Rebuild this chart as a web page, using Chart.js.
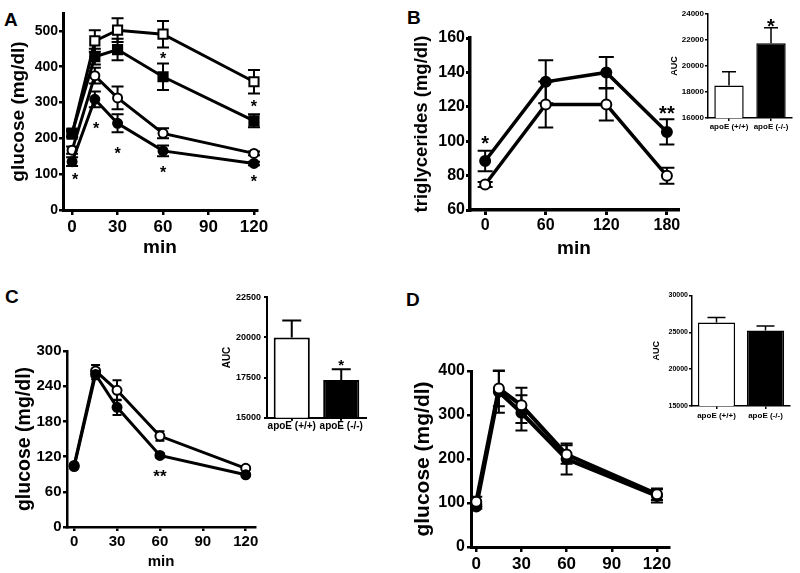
<!DOCTYPE html>
<html><head><meta charset="utf-8">
<script src="https://cdn.jsdelivr.net/npm/chart.js@4.4.1/dist/chart.umd.min.js"></script>
<style>
html,body{margin:0;padding:0;background:#fff;width:800px;height:573px;overflow:hidden;position:relative}
canvas{position:absolute;left:0;top:0}
.lbl{position:absolute;font:bold 19px 'Liberation Sans',Arial,sans-serif;line-height:19px;color:#000}
</style></head><body>
<div class="lbl" style="left:4px;top:10px">A</div>
<div class="lbl" style="left:407px;top:8px">B</div>
<div class="lbl" style="left:5px;top:287px">C</div>
<div class="lbl" style="left:406px;top:290px">D</div>
<canvas id="cA" width="800" height="573"></canvas>
<canvas id="cB" width="800" height="573"></canvas>
<canvas id="cBi" width="800" height="573"></canvas>
<canvas id="cC" width="800" height="573"></canvas>
<canvas id="cCi" width="800" height="573"></canvas>
<canvas id="cD" width="800" height="573"></canvas>
<canvas id="cDi" width="800" height="573"></canvas>
<script>
// ---------------- DATA ----------------
// Panel A
const timeA = [0, 15, 30, 60, 120];
const A_openSquare   = [212, 472, 502, 491, 358];
const A_openSquareErr = [8, 30, 33, 37, 33];
const A_filledSquare = [215, 428, 448, 372, 249];
const A_filledSquareErr = [10, 22, 30, 37, 18];
const A_openCircle   = [167, 375, 313, 214, 158];
const A_openCircleErr = [10, 22, 32, 14, 5];
const A_filledCircle = [135, 309, 242, 165, 130];
const A_filledCircleErr = [12, 22, 25, 15, 5];
const A_xTicks = [0, 30, 60, 90, 120];
const A_yTicks = [0, 100, 200, 300, 400, 500];
const A_stars = [[2, 95, '*'], [15.8, 239, '*'], [30, 169, '*'], [60, 114, '*'], [120, 91, '*'], [60, 433, '*'], [120, 298, '*']];

// Panel B
const timeB = [0, 60, 120, 180];
const B_filled = [88.5, 134.5, 140, 105.4];
const B_filledErr = [6, 12.5, 9, 7.3];
const B_open = [74.8, 121.3, 121.3, 79.9];
const B_openErr = [1.5, 13.4, 9.3, 4.6];
const B_xTicks = [0, 60, 120, 180];
const B_yTicks = [60, 80, 100, 120, 140, 160];
const B_stars = [[0, 101.6, '*'], [180, 118.8, '**']];
const AUC_labels = ['apoE (+/+)', 'apoE (-/-)'];
const B_auc = [18500, 21750];
const B_aucErr = [1050, 1200];
const B_aucTicks = [16000, 18000, 20000, 22000, 24000];
const B_aucStars = [[1, 23400, '*']];

// Panel C
const timeC = [0, 15, 30, 60, 120];
const C_open = [105, 266, 233, 155, 100];
const C_openErr = [3, 10, 17, 8, 3];
const C_filled = [103, 260, 204, 122, 89];
const C_filledErr = [3, 8, 13, 4, 3];
const C_xTicks = [0, 30, 60, 90, 120];
const C_yTicks = [0, 60, 120, 180, 240, 300];
const C_stars = [[60, 94, '**']];
const C_auc = [20000, 17350];
const C_aucErr = [1050, 670];
const C_aucTicks = [15000, 17500, 20000, 22500];
const C_aucStars = [[1, 18500, '*']];

// Panel D
const timeD = [0, 15, 30, 60, 120];
const D_open = [103, 360, 322, 210, 120];
const D_openErr = [11, 40, 40, 21, 13];
const D_filled = [92, 353, 305, 200, 116];
const D_filledErr = [5, 48, 40, 35, 15];
const D_xTicks = [0, 30, 60, 90, 120];
const D_yTicks = [0, 100, 200, 300, 400];
const D_auc = [26350, 25250];
const D_aucErr = [680, 600];
const D_aucTicks = [15000, 20000, 25000, 30000];

// ---------------- HELPERS ----------------
const FONT = "'Liberation Sans', Arial, Helvetica, sans-serif";
Chart.defaults.font.family = FONT;
Chart.defaults.font.weight = 'bold';
Chart.defaults.color = '#000';

function drawErr(chart, o) {
  const ctx = chart.ctx, ys = chart.scales.y;
  ctx.save();
  ctx.strokeStyle = '#000'; ctx.lineWidth = o.lw;
  o.errors.forEach((errs, i) => {
    if (!errs) return;
    const meta = chart.getDatasetMeta(i);
    const ds = chart.data.datasets[i];
    meta.data.forEach((el, j) => {
      const e = errs[j]; if (!e) return;
      const d = ds.data[j]; const v = (d && typeof d === 'object') ? d.y : d;
      const px = el.x;
      const top = ys.getPixelForValue(v + e);
      const bot = o.upOnly ? ys.getPixelForValue(v) : ys.getPixelForValue(v - e);
      ctx.beginPath();
      ctx.moveTo(px, top); ctx.lineTo(px, bot);
      ctx.moveTo(px - o.cap, top); ctx.lineTo(px + o.cap, top);
      if (!o.upOnly) { ctx.moveTo(px - o.cap, bot); ctx.lineTo(px + o.cap, bot); }
      ctx.stroke();
    });
  });
  ctx.restore();
}
function drawStars(chart, o) {
  if (!o.stars) return;
  const ctx = chart.ctx, xs = chart.scales.x, ys = chart.scales.y;
  ctx.save();
  ctx.fillStyle = '#000';
  ctx.font = 'bold ' + o.starSize + 'px ' + FONT;
  ctx.textAlign = 'center'; ctx.textBaseline = 'alphabetic';
  o.stars.forEach(s => {
    ctx.fillText(s[2], xs.getPixelForValue(s[0]), ys.getPixelForValue(s[1]) + 0.57 * o.starSize);
  });
  ctx.restore();
}
const extras = {
  id: 'extras',
  beforeDatasetsDraw(chart, a, o) { if (o.errors && !o.errAfter) drawErr(chart, o); },
  afterDatasetsDraw(chart, a, o) { if (o.errors && o.errAfter) drawErr(chart, o); drawStars(chart, o); }
};

function build(id, c) {
  const ylh = c.yTitle.size * 1.2;
  const boxLeft = c.yTitle.cx - ylh / 2;
  const W = c.area.l - boxLeft;
  const boxBottom = c.xTitle ? c.xTitle.cy + c.xTitle.size * 0.6 : (c.xBoxBottom || 573);
  const H = boxBottom - c.area.b;
  const padding = { left: boxLeft, top: c.area.t, right: 800 - c.area.r, bottom: 573 - boxBottom };
  const gridOf = (o) => ({ display: true, drawOnChartArea: false, drawTicks: true, tickLength: o.tl,
    tickWidth: c.tw, tickColor: '#000', color: '#000', lineWidth: c.tw, offset: false });
  const border = { display: true, width: c.bw, color: '#000' };
  let xScale;
  if (c.type === 'bar') {
    xScale = { type: 'category', offset: true, grid: gridOf(c.x), border,
      ticks: { font: { size: c.x.size, weight: 'bold' }, color: '#000', padding: c.x.pad, autoSkip: false, maxRotation: 0 },
      afterFit: s => { s.height = H; } };
  } else {
    xScale = { type: 'linear', min: c.x.min, max: c.x.max, grid: gridOf(c.x), border,
      afterBuildTicks: s => { s.ticks = c.x.ticks.map(v => ({ value: v })); },
      ticks: { font: { size: c.x.size, weight: 'bold' }, color: '#000', padding: c.x.pad, autoSkip: false, maxRotation: 0, callback: v => String(v) },
      title: c.xTitle ? { display: true, text: c.xTitle.text, font: { size: c.xTitle.size, weight: 'bold' }, color: '#000', padding: 0 } : { display: false },
      afterFit: s => { s.height = H; } };
  }
  const yScale = { type: 'linear', min: c.y.min, max: c.y.max, grid: gridOf(c.y), border,
    afterBuildTicks: s => { s.ticks = c.y.ticks.map(v => ({ value: v })); },
    ticks: { font: { size: c.y.size, weight: 'bold' }, color: '#000', padding: c.y.pad, autoSkip: false, callback: v => String(v) },
    title: { display: true, text: c.yTitle.text, font: { size: c.yTitle.size, weight: 'bold' }, color: '#000', padding: 0 },
    afterFit: s => { s.width = W; } };
  let data;
  if (c.type === 'bar') {
    data = { labels: c.labels, datasets: [{ data: c.values, backgroundColor: ['#fff', '#000'], borderColor: '#000',
      borderWidth: c.barBorder, categoryPercentage: 1, barPercentage: c.barPct }] };
  } else {
    data = { datasets: c.series.map(s => ({
      data: c.time.map((t, i) => ({ x: t, y: s.values[i] })),
      borderColor: '#000', borderWidth: c.lw, tension: 0, fill: false,
      pointStyle: s.style, pointRadius: s.r, pointBackgroundColor: s.fill, pointBorderColor: '#000',
      pointBorderWidth: s.pbw, clip: false, order: s.order || 0 })) };
  }
  return new Chart(document.getElementById(id), {
    type: c.type, data, plugins: [extras],
    options: {
      responsive: false, animation: false, events: [],
      layout: { padding, autoPadding: false },
      plugins: { legend: { display: false }, tooltip: { enabled: false },
        extras: { errors: c.errors, lw: c.elw, cap: c.cap, upOnly: !!c.upOnly, errAfter: !!c.errAfter,
          stars: c.stars, starSize: c.starSize } },
      scales: { x: xScale, y: yScale }
    }
  });
}

// ---------------- CHARTS ----------------
build('cA', {
  type: 'line', time: timeA, lw: 3, bw: 3, tw: 2.5,
  area: { l: 63, t: 13, r: 257, b: 210 },
  x: { min: -6, max: 122, ticks: A_xTicks, size: 17, tl: 5, pad: 2 },
  y: { min: 0, max: 550, ticks: A_yTicks, size: 14, tl: 4, pad: 1 },
  yTitle: { text: 'glucose (mg/dl)', size: 19, cx: 18.5 },
  xTitle: { text: 'min', size: 19, cy: 248 },
  series: [
    { values: A_openSquare, style: 'rect', r: 6.5, fill: '#fff', pbw: 2, order: 2 },
    { values: A_filledSquare, style: 'rect', r: 6.5, fill: '#000', pbw: 2, order: 0 },
    { values: A_openCircle, style: 'circle', r: 4.5, fill: '#fff', pbw: 2, order: 1 },
    { values: A_filledCircle, style: 'circle', r: 4.5, fill: '#000', pbw: 2, order: 0 }
  ],
  errors: [A_openSquareErr, A_filledSquareErr, A_openCircleErr, A_filledCircleErr], elw: 2, cap: 6,
  stars: A_stars, starSize: 16
});

build('cB', {
  type: 'line', time: timeB, lw: 3.5, bw: 3.5, tw: 3,
  area: { l: 470, t: 38, r: 678, b: 210 },
  x: { min: -15, max: 191, ticks: B_xTicks, size: 16, tl: 5, pad: 1 },
  y: { min: 60, max: 160, ticks: B_yTicks, size: 16, tl: 4, pad: 1 },
  yTitle: { text: 'triglycerides (mg/dl)', size: 18.5, cx: 421.7 },
  xTitle: { text: 'min', size: 19, cy: 249 },
  series: [
    { values: B_filled, style: 'circle', r: 5, fill: '#000', pbw: 2 },
    { values: B_open, style: 'circle', r: 5, fill: '#fff', pbw: 2 }
  ],
  errors: [B_filledErr, B_openErr], elw: 2, cap: 7.5,
  stars: B_stars, starSize: 20
});

build('cBi', {
  type: 'bar', labels: AUC_labels, values: B_auc, barPct: 0.7, barBorder: 1.5, bw: 1.5, tw: 1.5,
  area: { l: 708, t: 14, r: 792, b: 118 },
  x: { size: 8, tl: 3, pad: 1 },
  y: { min: 16000, max: 24000, ticks: B_aucTicks, size: 8, tl: 3, pad: 1 },
  yTitle: { text: 'AUC', size: 9, cx: 675 }, xBoxBottom: 140,
  errors: [B_aucErr], elw: 1.5, cap: 7, upOnly: true, errAfter: true,
  stars: B_aucStars, starSize: 20
});

build('cC', {
  type: 'line', time: timeC, lw: 3, bw: 2.5, tw: 2.5,
  area: { l: 67, t: 351, r: 255, b: 527 },
  x: { min: -5, max: 126.5, ticks: C_xTicks, size: 15, tl: 4, pad: 2 },
  y: { min: 0, max: 300, ticks: C_yTicks, size: 15, tl: 4, pad: 1.5 },
  yTitle: { text: 'glucose (mg/dl)', size: 19.5, cx: 25 },
  xTitle: { text: 'min', size: 15, cy: 561.7 },
  series: [
    { values: C_open, style: 'circle', r: 4.5, fill: '#fff', pbw: 2, order: 1 },
    { values: C_filled, style: 'circle', r: 4.5, fill: '#000', pbw: 2, order: 0 }
  ],
  errors: [C_openErr, C_filledErr], elw: 2, cap: 4.5,
  stars: C_stars, starSize: 17
});

build('cCi', {
  type: 'bar', labels: AUC_labels, values: C_auc, barPct: 0.73, barBorder: 2, bw: 2, tw: 2,
  area: { l: 267, t: 297.3, r: 366, b: 417.7 },
  x: { size: 10, tl: 3, pad: 0 },
  y: { min: 15000, max: 22500, ticks: C_aucTicks, size: 9, tl: 3, pad: 3 },
  yTitle: { text: 'AUC', size: 10, cx: 227 }, xBoxBottom: 440,
  errors: [C_aucErr], elw: 2, cap: 9.5, upOnly: true, errAfter: true,
  stars: C_aucStars, starSize: 15
});

build('cD', {
  type: 'line', time: timeD, lw: 4, bw: 3, tw: 2.5,
  area: { l: 471, t: 371, r: 669, b: 547 },
  x: { min: -3.5, max: 128, ticks: D_xTicks, size: 17, tl: 5, pad: 2 },
  y: { min: 0, max: 400, ticks: D_yTicks, size: 16, tl: 4, pad: 2 },
  yTitle: { text: 'glucose (mg/dl)', size: 21, cx: 423 },
  series: [
    { values: D_open, style: 'circle', r: 5, fill: '#fff', pbw: 2, order: 0 },
    { values: D_filled, style: 'circle', r: 5, fill: '#000', pbw: 2, order: 1 }
  ],
  errors: [D_openErr, D_filledErr], elw: 2, cap: 6
});

build('cDi', {
  type: 'bar', labels: AUC_labels, values: D_auc, barPct: 0.76, barBorder: 1.5, bw: 1.5, tw: 1.5,
  area: { l: 692, t: 295.5, r: 790, b: 406 },
  x: { size: 8, tl: 3, pad: 2 },
  y: { min: 15000, max: 30000, ticks: D_aucTicks, size: 7, tl: 3, pad: 1 },
  yTitle: { text: 'AUC', size: 9, cx: 657 }, xBoxBottom: 430,
  errors: [D_aucErr], elw: 1.5, cap: 9, upOnly: true, errAfter: true
});
</script>
</body></html>
